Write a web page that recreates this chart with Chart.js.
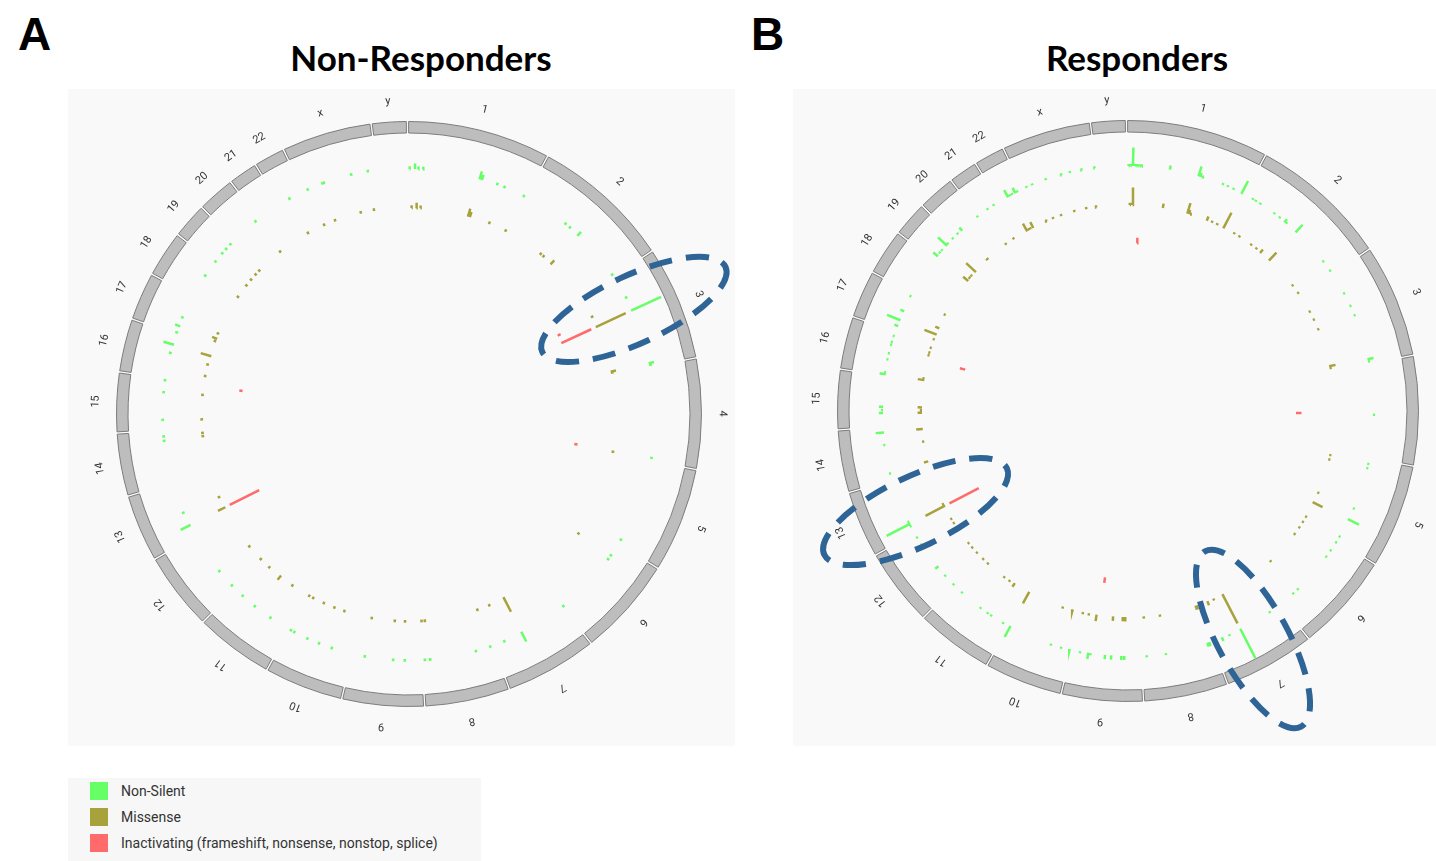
<!DOCTYPE html>
<html>
<head>
<meta charset="utf-8">
<script src="https://cdn.jsdelivr.net/npm/chart.js@4.4.1/dist/chart.umd.min.js"></script>
<style>
  html, body { margin: 0; padding: 0; background: #ffffff; }
  body { width: 1436px; height: 861px; position: relative; overflow: hidden; font-family: Roboto, "Liberation Sans", sans-serif; }
  .tag { position: absolute; font: bold 46px "Liberation Sans", Arial, sans-serif; line-height: 46px; color: #000; }
  .title { position: absolute; font: bold 35px Lato, "Open Sans", sans-serif; line-height: 35px; color: #000; white-space: nowrap; transform: translateX(-50%); }
  .panel { position: absolute; background: #f9f9f9; }
  .panel canvas { position: absolute; left: 0; top: 0; }
  .legend { position: absolute; left: 68px; top: 778px; width: 413px; height: 83px; background: #f7f7f7; }
  .legend .item { position: absolute; left: 22px; height: 18px; font: 14px Roboto, sans-serif; color: #333; line-height: 18px; white-space: nowrap; }
  .legend .sw { display: inline-block; width: 18px; height: 18px; vertical-align: top; margin-right: 13px; }
</style>
</head>
<body>
<div class="tag" style="left:18px;top:11px;">A</div>
<div class="tag" style="left:751px;top:11px;">B</div>
<div class="title" style="left:421px;top:40px;">Non-Responders</div>
<div class="title" style="left:1137px;top:40px;">Responders</div>

<div class="panel" id="panelA" style="left:68px;top:89px;width:667px;height:657px;">
  <canvas id="ringA" width="667" height="657"></canvas>
  <canvas id="marksA" width="667" height="657"></canvas>
</div>
<div class="panel" id="panelB" style="left:793px;top:89px;width:643px;height:657px;">
  <canvas id="ringB" width="643" height="657"></canvas>
  <canvas id="marksB" width="643" height="657"></canvas>
</div>

<div class="legend">
  <div class="item" style="top:4px;"><span class="sw" style="background:#66ff66"></span>Non-Silent</div>
  <div class="item" style="top:30px;"><span class="sw" style="background:#a8a23c"></span>Missense</div>
  <div class="item" style="top:56px;"><span class="sw" style="background:#ff6b6b"></span>Inactivating (frameshift, nonsense, nonstop, splice)</div>
</div>

<script>
// Chromosomes in ring order (clockwise from the top) and their lengths in Mb.
const CHROMOSOMES = ['1','2','3','4','5','6','7','8','9','10','11','12','13','14','15','16','17','18','19','20','21','22','x','y'];
const CHROM_LENGTHS_MB = [249.25, 243.2, 198.02, 191.15, 180.92, 171.12, 159.14, 146.36, 141.21, 135.53, 135.01, 133.85,
                          115.17, 107.35, 102.53, 90.35, 81.2, 78.08, 59.13, 63.03, 48.13, 51.3, 155.27, 59.37];

// Mutated sites: [chromosome, position (Mb), number of samples]
const nonSilentA = [
  ['1',2,1],['1',13,2],['1',20,1],['1',30,1],['1',149,3],['1',154,2],['1',187,1],['1',203,1],['1',247,1],
  ['2',97,1],['2',109,1],['2',132,2],['2',240,1],
  ['3',48,1],['3',77,12],['3',192,2],['3',196,1],
  ['4',187,1],
  ['5',173,1],
  ['6',26,1],['6',36,1],['6',170,1],
  ['7',97,4],['7',137,1],
  ['8',5,1],['8',36,1],['8',132,1],['8',143,1],
  ['9',34,1],['9',58,1],['9',117,1],
  ['10',42,1],['10',70,1],['10',96,1],['10',126,1],['10',134,1],
  ['11',44,1],['11',84,1],['11',117,1],
  ['12',9,1],['12',48,1],
  ['13',23,4],['13',52,1],
  ['14',87,1],['14',96,1],
  ['15',19,1],['15',76,1],['15',101,1],
  ['16',52,1],['16',70,4],
  ['17',2,1],['17',16,2],['17',35,1],
  ['18',48,1],
  ['19',2,1],['19',24,1],['19',36,1],['19',49,1],
  ['20',56,1],
  ['22',21,1],
  ['x',8,1],['x',41,1],['x',44,1],['x',103,1],['x',138,1]
];
const missenseA = [
  ['1',7,1],['1',19,2],['1',29,1],['1',148,3],['1',153,2],['1',203,1],['1',247,1],
  ['2',97,1],['2',106,1],['2',132,2],
  ['3',50,1],['3',77,12],['3',193,2],['3',196,1],
  ['4',189,1],
  ['6',28,1],
  ['7',97,6],['7',137,1],
  ['8',5,1],['8',137,1],['8',145,1],
  ['9',35,1],['9',60,1],['9',117,1],
  ['10',41,1],['10',67,1],['10',95,1],['10',124,1],['10',135,1],
  ['11',44,1],['11',81,2],['11',116,1],
  ['12',6,1],['12',48,1],
  ['13',23,3],['13',52,1],
  ['14',88,1],['14',96,1],
  ['15',18,1],['15',78,1],
  ['16',18,1],['16',47,1],['16',69,4],
  ['17',13,1],['17',20,2],['17',33,1],
  ['18',50,1],
  ['19',3,1],['19',21,1],['19',38,1],['19',51,1],
  ['20',57,1],
  ['22',20,1],
  ['x',9,1],['x',38,1],['x',104,1],['x',137,1]
];
const inactivatingA = [
  ['3',52,1],['3',77,10],['4',187,1],['13',23,10],['15',101,1]
];

const nonSilentB = [
  ['1',2,1],['1',6,1],['1',11,9],['1',16,1],['1',20,1],['1',25,1],['1',29,1],
  ['1',88,2],
  ['1',149,5],['1',153,2],['1',157,1],
  ['1',202,1],['1',213,1],['1',226,1],
  ['1',245,7],
  ['2',18,1],['2',25,1],['2',36,1],['2',71,1],['2',85,1],['2',99,2],['2',103,1],['2',130,5],['2',213,1],['2',237,1],
  ['3',45,1],['3',74,1],['3',95,1],['3',190,3],['3',195,1],
  ['4',104,1],
  ['5',11,1],['5',20,1],['5',108,1],['5',133,6],['5',173,1],
  ['6',2,1],['6',22,1],['6',38,1],['6',127,1],['6',140,1],
  ['7',27,1],['7',97,16],['7',123,1],['7',139,2],
  ['8',4,2],['8',8,2],['8',97,1],['8',137,1],
  ['9',33,2],['9',39,2],['9',60,2],['9',73,2],['9',103,1],['9',108,3],['9',125,1],
  ['10',2,1],['10',20,1],['10',42,1],['10',134,6],
  ['11',11,1],['11',40,1],['11',49,1],['11',67,1],['11',117,1],
  ['12',2,1],['12',27,1],['12',51,2],['12',108,1],['12',125,1],
  ['13',14,1],['13',19,13],['13',24,1],
  ['14',12,1],['14',72,1],['14',98,4],
  ['15',27,2],['15',33,1],['15',40,2],
  ['16',1,3],['16',5,1],['16',32,1],['16',45,1],['16',63,1],['16',69,1],['16',82,1],
  ['17',10,2],['17',23,7],['17',43,2],['17',77,1],
  ['19',10,3],['19',18,1],['19',25,1],['19',39,6],['19',43,1],['19',58,1],
  ['20',9,1],['20',20,2],['20',63,1],
  ['21',22,1],['21',37,1],
  ['22',19,4],['22',24,1],['22',29,1],['22',36,3],['22',41,1],
  ['x',7,1],['x',20,1],['x',50,1],['x',84,1],['x',102,1],['x',127,1],['x',154,1]
];
const missenseB = [
  ['1',5,1],['1',8,1],['1',12,8],
  ['1',87,2],
  ['1',149,5],['1',153,2],['1',156,1],
  ['1',200,2],['1',213,1],['1',227,1],
  ['1',245,8],
  ['2',21,1],['2',36,1],['2',71,1],['2',87,1],['2',101,2],['2',130,5],['2',214,1],['2',237,1],
  ['3',44,1],['3',66,1],['3',92,1],['3',187,3],['3',192,1],
  ['5',10,1],['5',21,1],['5',107,1],['5',134,5],['5',173,1],
  ['6',3,1],['6',19,1],['6',39,1],['6',128,1],
  ['7',97,15],['7',122,1],['7',138,2],
  ['8',3,2],['8',6,2],['8',97,1],['8',137,1],
  ['9',32,2],['9',38,2],['9',62,2],['9',103,3],['9',122,1],['9',137,1],
  ['10',18,1],['10',43,1],['10',134,6],
  ['11',36,2],['11',50,1],['11',66,1],['11',118,1],['11',134,1],
  ['12',17,1],['12',34,1],['12',48,1],['12',109,1],['12',121,1],
  ['13',19,10],['13',25,1],
  ['14',17,2],['14',67,1],['14',98,3],
  ['15',27,2],['15',33,1],['15',40,2],
  ['16',1,3],['16',5,1],['16',63,1],['16',70,1],['16',82,1],
  ['17',10,1],['17',23,6],['17',40,2],['17',76,1],
  ['19',10,3],['19',18,1],['19',25,1],['19',39,6],
  ['20',17,1],['20',19,1],
  ['21',10,1],['21',33,1],
  ['22',19,4],['22',24,1],['22',29,1],['22',36,3],
  ['x',18,1],['x',35,1],['x',56,1],['x',90,1],['x',120,1],['x',145,1]
];
const inactivatingB = [
  ['1',28,1],['4',102,1],['9',95,1],['13',19,6],['16',51,1]
];

// Sites circled in each panel: [chromosome, position (Mb)]
const highlightsA = [['3',77]];
const highlightsB = [['13',37],['7',84]];

// ---- ring geometry ----
const GAP_DEG = 0.45;          // white gap between neighbouring chromosomes
const ROT_DEG = -0.075;        // start angle of chromosome 1 (0 = 12 o'clock)
const RING_WIDTH = 12;
const TRACK_HEIGHT = 33;
const TRACKS = [
  { key: 'nonSilent',    base: 245, color: '#66ff66' },
  { key: 'missense',     base: 206, color: '#a8a23c' },
  { key: 'inactivating', base: 168, color: '#ff6b6b' }
];

const GENOME_MB = CHROM_LENGTHS_MB.reduce((a, b) => a + b, 0);
const DEG_PER_MB = (360 - CHROMOSOMES.length * GAP_DEG) / GENOME_MB;
const GAP_MB = GAP_DEG / DEG_PER_MB;
const CUM_START = [];
CHROM_LENGTHS_MB.reduce((acc, len, i) => { CUM_START[i] = acc; return acc + len; }, 0);

function angleOf(chr, pos) {
  const i = CHROMOSOMES.indexOf(chr);
  const deg = ROT_DEG + i * GAP_DEG + (CUM_START[i] + pos) * DEG_PER_MB;
  return deg * Math.PI / 180;
}

// Ring slices: each chromosome followed by an invisible spacer
const ringValues = [], ringFill = [], ringStroke = [], ringStrokeW = [], ringLabels = [];
CHROMOSOMES.forEach((c, i) => {
  ringLabels.push(c, '');
  ringValues.push(CHROM_LENGTHS_MB[i], GAP_MB);
  ringFill.push('#bdbdbd', 'rgba(0,0,0,0)');
  ringStroke.push('#7c7c7c', 'rgba(0,0,0,0)');
  ringStrokeW.push(1, 0);
});

const chromLabelPlugin = {
  id: 'chromLabels',
  afterDatasetsDraw(chart) {
    const arcs = chart.getDatasetMeta(0).data;
    const ctx = chart.ctx;
    ctx.save();
    ctx.font = '11px Roboto, "Liberation Sans", sans-serif';
    ctx.fillStyle = '#333333';
    ctx.textAlign = 'center';
    ctx.textBaseline = 'middle';
    CHROMOSOMES.forEach((name, i) => {
      const p = arcs[2 * i].getProps(['x', 'y', 'startAngle', 'endAngle', 'outerRadius'], true);
      const mid = (p.startAngle + p.endAngle) / 2;
      const r = p.outerRadius + 21;
      ctx.save();
      ctx.translate(p.x + r * Math.cos(mid), p.y + r * Math.sin(mid));
      ctx.rotate(mid + Math.PI / 2);
      ctx.fillText(name, 0, 0);
      ctx.restore();
    });
    ctx.restore();
  }
};

function makeHighlightPlugin(items) {
  return {
    id: 'siteHighlights',
    afterDatasetsDraw(chart) {
      const ctx = chart.ctx, xs = chart.scales.x, ys = chart.scales.y;
      ctx.save();
      ctx.strokeStyle = '#2f6596';
      ctx.lineWidth = 6;
      ctx.setLineDash([23, 14]);
      items.forEach(h => {
        const a = angleOf(h.chr, h.pos);
        const cx = xs.getPixelForValue(h.radius * Math.sin(a));
        const cy = ys.getPixelForValue(h.radius * Math.cos(a));
        ctx.beginPath();
        ctx.ellipse(cx, cy, h.semiMajor, h.semiMinor, a - Math.PI / 2, 0, Math.PI * 2);
        ctx.stroke();
      });
      ctx.restore();
    }
  };
}

function buildPanel(cfg) {
  const { ringId, marksId, width, height, cx, cy, radius, data, highlights } = cfg;

  new Chart(document.getElementById(ringId), {
    type: 'doughnut',
    data: {
      labels: ringLabels,
      datasets: [{ data: ringValues, backgroundColor: ringFill, borderColor: ringStroke, borderWidth: ringStrokeW }]
    },
    options: {
      responsive: false, animation: false, events: [],
      rotation: ROT_DEG,
      cutout: radius - RING_WIDTH,
      layout: { padding: { left: cx - radius, top: cy - radius, right: width - cx - radius, bottom: height - cy - radius } },
      plugins: { legend: { display: false }, tooltip: { enabled: false } }
    },
    plugins: [chromLabelPlugin]
  });

  const datasets = TRACKS.map(t => {
    const sites = data[t.key];
    const maxCount = Math.max(...sites.map(s => s[2]));
    const pts = [];
    sites.forEach(([chr, pos, n]) => {
      const a = angleOf(chr, pos);
      const r0 = t.base, r1 = t.base + n / maxCount * TRACK_HEIGHT;
      pts.push({ x: r0 * Math.sin(a), y: r0 * Math.cos(a) });
      pts.push({ x: r1 * Math.sin(a), y: r1 * Math.cos(a) });
      pts.push({ x: null, y: null });
    });
    return {
      label: t.key, data: pts, showLine: true, spanGaps: false,
      borderColor: t.color, backgroundColor: t.color,
      borderWidth: 2.5, borderCapStyle: 'butt', pointRadius: 0, tension: 0
    };
  });

  new Chart(document.getElementById(marksId), {
    type: 'scatter',
    data: { datasets },
    options: {
      responsive: false, animation: false, events: [],
      layout: { padding: 0 },
      scales: {
        x: { type: 'linear', display: false, min: -cx, max: width - cx },
        y: { type: 'linear', display: false, min: cy - height, max: cy }
      },
      plugins: { legend: { display: false }, tooltip: { enabled: false } }
    },
    plugins: [makeHighlightPlugin(highlights)]
  });
}

buildPanel({
  ringId: 'ringA', marksId: 'marksA', width: 667, height: 657, cx: 341, cy: 325, radius: 293,
  data: { nonSilent: nonSilentA, missense: missenseA, inactivating: inactivatingA },
  highlights: highlightsA.map(([chr, pos]) => ({ chr, pos, radius: 248, semiMajor: 101, semiMinor: 34 }))
});
buildPanel({
  ringId: 'ringB', marksId: 'marksB', width: 643, height: 657, cx: 335, cy: 322, radius: 291,
  data: { nonSilent: nonSilentB, missense: missenseB, inactivating: inactivatingB },
  highlights: [
    { chr: highlightsB[0][0], pos: highlightsB[0][1], radius: 235, semiMajor: 101, semiMinor: 35 },
    { chr: highlightsB[1][0], pos: highlightsB[1][1], radius: 260, semiMajor: 100, semiMinor: 35 }
  ]
});
</script>
</body>
</html>
